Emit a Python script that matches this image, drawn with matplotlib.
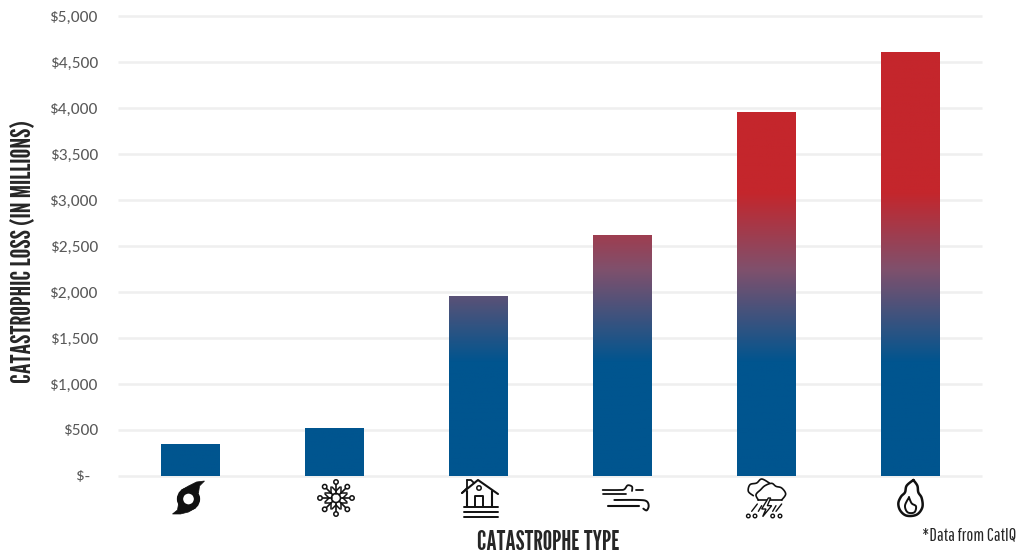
import numpy as np
import matplotlib
matplotlib.use("Agg")
import logging
logging.getLogger("matplotlib.font_manager").setLevel(logging.ERROR)
import matplotlib.pyplot as plt
from matplotlib.colors import LinearSegmentedColormap
from matplotlib.patches import Circle, Polygon

categories = ["Hurricane", "Winter storm", "Flood", "Wind", "Severe storm", "Wildfire"]
losses = [350, 525, 1960, 2615, 3955, 4610]
y_ticks = [0, 500, 1000, 1500, 2000, 2500, 3000, 3500, 4000, 4500, 5000]
y_tick_labels = ["$-  ", "$500", "$1,000", "$1,500", "$2,000", "$2,500", "$3,000", "$3,500", "$4,000", "$4,500", "$5,000"]
gradient_stops = [1230, 3080]
BLUE, MID, RED = "#00558F", "#80506C", "#C4262C"

TICK_FONT = ["Carlito", "Lato", "DejaVu Sans"]
HEAD_FONT = ["League Gothic", "Bebas Neue", "Liberation Sans"]
NOTE_FONT = ["Pathway Gothic One", "Oswald", "Liberation Sans"]

W, H = 1017, 556
fig = plt.figure(figsize=(W/100, H/100), dpi=100, facecolor="white")
ax = fig.add_axes([118/W, 1-476/H, 864/W, 460/H])
x = np.arange(len(categories))
bars = ax.bar(x, losses, width=59/144, color=BLUE, zorder=2)
cmap = LinearSegmentedColormap.from_list("g", [(0, BLUE), (0.55, MID), (1, RED)])
grad = np.linspace(0, 5000, 512)
grad = np.clip((grad-gradient_stops[0])/(gradient_stops[1]-gradient_stops[0]), 0, 1).reshape(-1, 1)
for b in bars:
    im = ax.imshow(grad, origin="lower", aspect="auto", cmap=cmap, zorder=3,
                   extent=[b.get_x(), b.get_x()+b.get_width(), 0, 5000])
    im.set_clip_path(b)
ax.set_xlim(-0.5, 5.5)
ax.set_ylim(0, 5000)
ax.set_yticks(y_ticks, y_tick_labels, family=TICK_FONT, fontsize=12.5, color="#595959")
ax.set_xticks([])
ax.tick_params(axis="y", length=0, pad=14.5)
ax.grid(axis="y", color="#EFEFEF", lw=1.8, zorder=0, clip_on=False, solid_capstyle="butt")
ax.set_axisbelow(True)
for s in ax.spines.values():
    s.set_visible(False)

fig.text(24/W, 1-252/H, "CATASTROPHIC LOSS (IN MILLIONS)", rotation=90, ha="center", va="center",
         family=HEAD_FONT, fontsize=19.6, color="#262626")
fig.text(548.5/W, 1-542/H, "CATASTROPHE TYPE", ha="center", va="center",
         family=HEAD_FONT, fontsize=19, color="#262626")
fig.text(969.5/W, 1-535/H, "*Data from CatIQ", ha="center", va="center",
         family=NOTE_FONT, fontsize=13.3, color="#262626")

# icon overlay in pixel coordinates (decorative glyphs)
ov = fig.add_axes([0, 0, 1, 1], facecolor="none")
ov.set_xlim(0, W); ov.set_ylim(H, 0); ov.axis("off")
k = "#111111"

def line(xs, ys, lw=1.3):
    ov.plot(xs, ys, color=k, lw=lw, solid_capstyle="round", solid_joinstyle="round", zorder=4)

def smooth(pts, closed=False, n=8):
    p = np.asarray(pts, float)
    p = np.vstack([p[-1], p, p[0], p[1]]) if closed else np.vstack([p[0], p, p[-1]])
    out = []
    for i in range(1, len(p)-2):
        for t in np.linspace(0, 1, n, endpoint=False):
            a, b, c, d = p[i-1], p[i], p[i+1], p[i+2]
            out.append(0.5*(2*b+(c-a)*t+(2*a-5*b+4*c-d)*t**2+(3*b-a-3*c+d)*t**3))
    out.append(p[-2])
    return np.array(out)

def zline(ox, oy, pts, lw=1.3, closed=False, fill=None):
    s = smooth(pts, closed)
    xs, ys = ox+s[:, 0]/3, oy+s[:, 1]/3
    if fill:
        ov.fill(xs, ys, fc=fill, ec="none", zorder=4)
    line(xs, ys, lw)

# hurricane
cx, cy = 188.5, 499
ov.add_patch(Circle((cx, cy), 8.5, fc="none", ec=k, lw=4.5))
for pts in ([(-7, -9), (0, -13), (8, -17), (16, -18), (11, -13), (10, -6)],
            [(7, 9), (0, 13), (-8, 15), (-16, 15), (-11, 11), (-10, 5)]):
    ov.add_patch(Polygon([(cx+a, cy+b) for a, b in pts], fc=k, ec=k, lw=0.5))

# snowflake
cx, cy = 336, 498
ov.add_patch(Circle((cx, cy), 4.5, fc="white", ec=k, lw=1.2))
for a in np.deg2rad(np.arange(0, 360, 45)):
    d = np.array([np.sin(a), -np.cos(a)])
    n = np.array([-d[1], d[0]])
    line([cx+d[0]*4.5, cx+d[0]*14], [cy+d[1]*4.5, cy+d[1]*14], 1.2)
    ov.add_patch(Circle((cx+d[0]*16, cy+d[1]*16), 2.2, fc="white", ec=k, lw=1.1, zorder=5))
    for s in (-1, 1):
        p = d*7
        q = d*11 + s*n*4
        line([cx+p[0], cx+q[0]], [cy+p[1], cy+q[1]], 1.1)

# flooded house
line([462, 467, 467], [493, 488, 480], 1.3)
line([467, 471, 474], [480, 480, 483], 1.3)
line([462, 478, 498], [493, 480, 494], 1.5)
line([467, 467], [491, 506], 1.5)
line([492, 492], [491, 506], 1.5)
line([475, 475, 483, 483], [506, 496, 496, 506], 1.4)
ov.add_patch(Circle((479, 488), 2.2, fc="white", ec=k, lw=1.1))
for yy in (507, 512, 517):
    line([464, 498], [yy, yy], 1.4)

# wind
zline(596, 476, [(20, 42), (70, 42), (85, 40), (95, 28), (108, 32), (108, 45)], 1.3)
line([636, 643], [490, 490], 1.3)
line([603, 626], [493.5, 493.5], 1.3)
zline(596, 476, [(55, 72), (130, 72), (152, 76), (158, 90), (152, 103), (142, 98)], 1.4)
line([608, 639], [506, 506], 1.5)

# storm cloud
zline(740, 474, [(40, 65), (25, 52), (30, 32), (50, 27), (65, 15), (88, 27)], 1.2)
zline(740, 474, [(55, 78), (48, 62), (62, 47), (75, 35), (95, 28), (108, 37), (125, 42), (137, 60), (125, 78)], 1.2)
line([740+55/3, 740+125/3], [474+26, 474+26], 1.2)
ov.fill(740+np.array([85, 65, 78, 68, 95, 82, 92])/3, 474+np.array([72, 105, 105, 128, 95, 95, 72])/3,
        fc="white", ec=k, lw=1.0, zorder=5)
for a, b, c, d in ((35, 112, 52, 90), (55, 112, 65, 95), (98, 112, 108, 95), (108, 112, 125, 90)):
    line([740+a/3, 740+c/3], [474+b/3, 474+d/3], 1.0)
for zx in (25, 45, 98, 120):
    ov.add_patch(Circle((740+zx/3, 474+126/3), 1.8, fc="white", ec=k, lw=1.0))

# flame
zline(885, 474, [(85, 18), (65, 35), (60, 55), (48, 68), (40, 88), (46, 110), (65, 125), (95, 122), (112, 100), (110, 72), (100, 55), (97, 35), (85, 18)], 1.8)
zline(885, 474, [(72, 70), (60, 95), (68, 115), (88, 115), (93, 97), (80, 88), (72, 70)], 1.4)

fig.savefig("out.png", dpi=100, facecolor="white")
